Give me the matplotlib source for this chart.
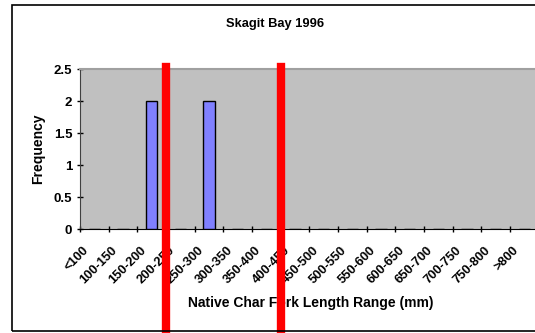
import matplotlib.pyplot as plt
from matplotlib.patches import Rectangle
import numpy as np

plt.rcParams['font.family'] = ['Liberation Sans', 'DejaVu Sans']
plt.rcParams['font.weight'] = 'bold'

ranges = ['<100', '100-150', '150-200', '200-250', '250-300', '300-350', '350-400',
          '400-450', '450-500', '500-550', '550-600', '600-650', '650-700',
          '700-750', '750-800', '>800']
freq = [0, 0, 2, 0, 2, 0, 0, 0, 0, 0, 0, 0, 0, 0, 0, 0]
# limits marked in red (mm)
limits = [200, 400]

fig = plt.figure(figsize=(5.35, 3.33), dpi=100)
ax = fig.add_axes([80 / 535, 1 - 229 / 333, 458.7 / 535, 160 / 333])

x = np.arange(len(ranges))
ax.bar(x, freq, width=0.4, color='#8080FF', edgecolor='black', linewidth=1, zorder=3)

ax.set_facecolor('#C0C0C0')
ax.set_xlim(-0.5, len(ranges) - 0.5)
ax.set_ylim(0, 2.5)
ax.set_yticks(np.arange(0, 2.51, 0.5))
ax.set_yticklabels(['0', '0.5', '1', '1.5', '2', '2.5'], fontsize=9.5, fontweight='bold')
# rotated labels end a little left of the category centre
ax.set_xticks(x - 0.25)
ax.set_xticklabels(ranges, rotation=45, ha='right', va='center', rotation_mode='anchor',
                   fontsize=9.3, fontweight='bold')
ax.tick_params(axis='x', length=0, pad=14)
ax.set_xticks(np.arange(-0.5, len(ranges), 1), minor=True)
ax.tick_params(axis='x', which='minor', length=5, width=1, direction='inout')
ax.tick_params(axis='y', length=5, width=1, direction='inout', pad=3)

ax.spines['right'].set_visible(False)
ax.spines['top'].set_color('#A0A0A0')
ax.spines['top'].set_linewidth(1.5)
ax.spines['left'].set_color('#404040')
ax.spines['bottom'].set_color('black')

ax.set_title('Skagit Bay 1996', fontsize=9.3, fontweight='bold', pad=30,
             x=(275 - 80) / 458.7)
ax.set_ylabel('Frequency', fontsize=10, fontweight='bold', labelpad=6)
ax.set_xlabel('Native Char Fork Length Range (mm)', fontsize=10, fontweight='bold',
              labelpad=7, x=(311 - 80) / 458.7)

# red limit lines at the category boundaries
for lim in limits:
    pos = ranges.index('%d-%d' % (lim, lim + 50)) - 0.5
    ax.axvline(pos, ymin=-0.65, ymax=1.01, color='#FF0000', linewidth=6,
               clip_on=False, zorder=5)

# chart frame
fig.patches.append(Rectangle((12 / 535, 2 / 333), 1.0, 326 / 333, transform=fig.transFigure,
                             fill=False, edgecolor='black', linewidth=1.2))

fig.savefig('out.png', dpi=100)
